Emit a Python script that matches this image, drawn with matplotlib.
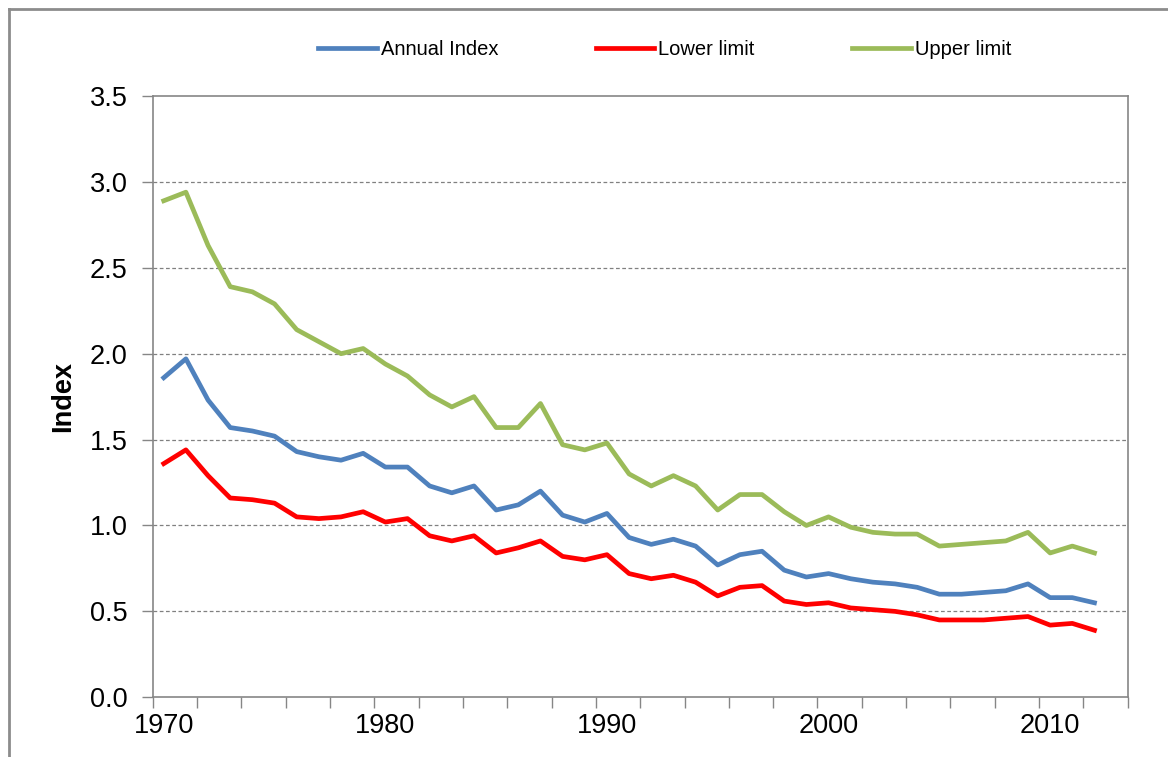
import matplotlib
matplotlib.use('Agg')
import matplotlib.pyplot as plt
from matplotlib.lines import Line2D

plt.rcParams['font.family'] = ['Liberation Sans', 'DejaVu Sans']

years = list(range(1970, 2013))

annual_index = [1.86, 1.97, 1.73, 1.57, 1.55, 1.52, 1.43, 1.40, 1.38, 1.42,
                1.34, 1.34, 1.23, 1.19, 1.23, 1.09, 1.12, 1.20, 1.06, 1.02,
                1.07, 0.93, 0.89, 0.92, 0.88, 0.77, 0.83, 0.85, 0.74, 0.70,
                0.72, 0.69, 0.67, 0.66, 0.64, 0.60, 0.60, 0.61, 0.62, 0.66,
                0.58, 0.58, 0.55]
lower_limit = [1.36, 1.44, 1.29, 1.16, 1.15, 1.13, 1.05, 1.04, 1.05, 1.08,
               1.02, 1.04, 0.94, 0.91, 0.94, 0.84, 0.87, 0.91, 0.82, 0.80,
               0.83, 0.72, 0.69, 0.71, 0.67, 0.59, 0.64, 0.65, 0.56, 0.54,
               0.55, 0.52, 0.51, 0.50, 0.48, 0.45, 0.45, 0.45, 0.46, 0.47,
               0.42, 0.43, 0.39]
upper_limit = [2.89, 2.94, 2.63, 2.39, 2.36, 2.29, 2.14, 2.07, 2.00, 2.03,
               1.94, 1.87, 1.76, 1.69, 1.75, 1.57, 1.57, 1.71, 1.47, 1.44,
               1.48, 1.30, 1.23, 1.29, 1.23, 1.09, 1.18, 1.18, 1.08, 1.00,
               1.05, 0.99, 0.96, 0.95, 0.95, 0.88, 0.89, 0.90, 0.91, 0.96,
               0.84, 0.88, 0.84]

x_labels = [1970, 1980, 1990, 2000, 2010]
y_ticks = [0.0, 0.5, 1.0, 1.5, 2.0, 2.5, 3.0, 3.5]

fig = plt.figure(figsize=(11.68, 7.57), dpi=100)
ax = fig.add_axes([0.1307, 0.0789, 0.8348, 0.7943])

ax.plot(years, annual_index, color='#4F81BD', lw=3.4, label='Annual Index')
ax.plot(years, lower_limit, color='#FF0000', lw=3.4, label='Lower limit')
ax.plot(years, upper_limit, color='#9BBB59', lw=3.4, label='Upper limit')

ax.set_xlim(1969.5, 2013.5)
ax.set_ylim(0, 3.5)

# year labels on the data points, tick marks between every 2 categories
ax.set_xticks(x_labels)
ax.set_xticks([1969.5 + 2 * k for k in range(23)], minor=True)
ax.tick_params(axis='x', which='major', length=0, pad=11, labelsize=19.5)
ax.tick_params(axis='x', which='minor', length=8, width=1, color='#868686', direction='out')

ax.set_yticks(y_ticks)
ax.set_yticklabels(['%.1f' % v for v in y_ticks])
ax.tick_params(axis='y', length=8, width=1, color='#868686', direction='out', pad=10, labelsize=19.5)

for v in y_ticks[1:-1]:
    ax.axhline(v, color='#808080', lw=0.9, ls=(0, (3, 2)), zorder=0)

for s in ax.spines.values():
    s.set_color('#868686')
    s.set_linewidth(1.2)

ax.set_ylabel('Index', fontsize=19.5, fontweight='bold', labelpad=10)

fig.legend(loc='center', bbox_to_anchor=(0.569, 0.934), ncol=3, frameon=False,
           fontsize=14.5, handlelength=2.9, handletextpad=0.2, columnspacing=4.85)

# chart area border (only left and top visible)
fig.add_artist(Line2D([0.0075, 0.0075], [0, 0.988], transform=fig.transFigure,
                      color='#8C8C8C', lw=2))
fig.add_artist(Line2D([0.0075, 1.0], [0.988, 0.988], transform=fig.transFigure,
                      color='#8C8C8C', lw=2))

fig.savefig('out.png', dpi=100)
